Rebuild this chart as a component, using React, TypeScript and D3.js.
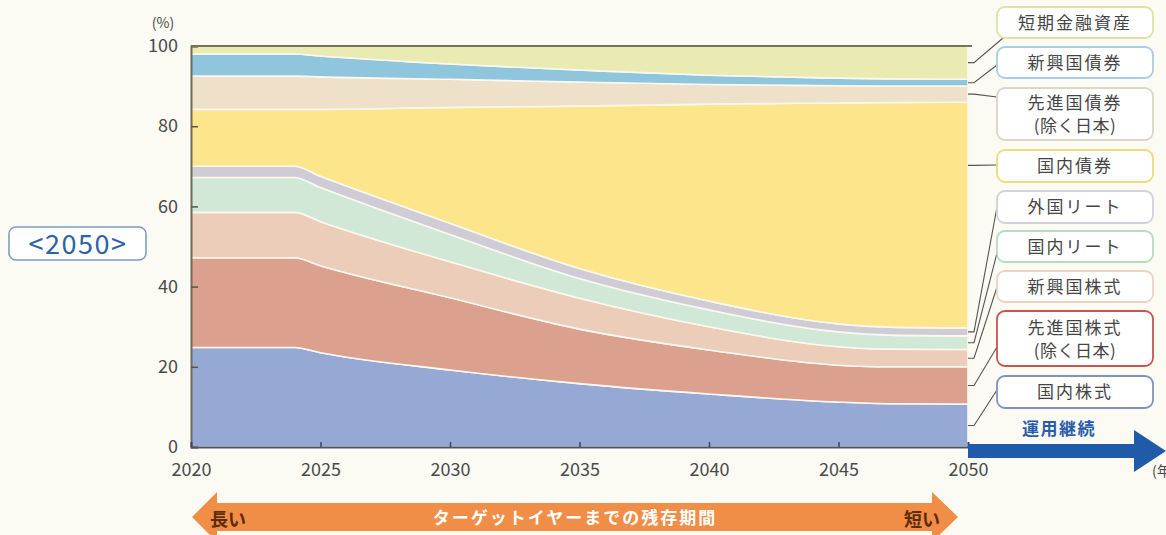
import { useEffect, useRef } from "react";
import * as d3 from "d3";

// Glide path (% of portfolio), bottom band first
const YEARS = [2020, 2024, 2025, 2030, 2035, 2040, 2045, 2047, 2050];
const DOMESTIC_EQUITY = [24.8, 24.8, 23.5, 19.2, 15.8, 13.2, 11.2, 10.8, 10.7];
const DEVELOPED_EQUITY = [22.4, 22.4, 21.7, 18.0, 13.6, 11.0, 9.2, 9.2, 9.3];
const EMERGING_EQUITY = [11.3, 11.3, 11.0, 9.0, 7.7, 5.8, 4.6, 4.4, 4.3];
const DOMESTIC_REIT = [8.7, 8.7, 8.5, 6.8, 4.9, 4.2, 3.7, 3.5, 3.4];
const FOREIGN_REIT = [2.8, 2.8, 2.8, 2.8, 2.5, 2.2, 2.0, 2.0, 2.0];
const DOMESTIC_BOND = [14.2, 14.2, 16.7, 28.9, 40.5, 49.1, 55.1, 56.0, 56.3];
const DEVELOPED_BOND = [8.3, 8.3, 8.1, 7.0, 6.0, 4.9, 4.3, 4.1, 4.0];
const EMERGING_BOND = [5.5, 5.5, 5.2, 3.8, 3.0, 2.3, 1.9, 1.8, 1.7];
const SHORT_TERM = [2.0, 2.0, 2.5, 4.5, 6.0, 7.3, 8.0, 8.2, 8.3];

const SERIES_KEYS = [
  "domEq", "devEq", "emEq", "domReit", "forReit",
  "domBond", "devBond", "emBond", "short",
];
const SERIES_VALUES = [
  DOMESTIC_EQUITY, DEVELOPED_EQUITY, EMERGING_EQUITY, DOMESTIC_REIT, FOREIGN_REIT,
  DOMESTIC_BOND, DEVELOPED_BOND, EMERGING_BOND, SHORT_TERM,
];
const SERIES_LABELS = [
  ["国内株式"], ["先進国株式", "(除く日本)"], ["新興国株式"], ["国内リート"], ["外国リート"],
  ["国内債券"], ["先進国債券", "(除く日本)"], ["新興国債券"], ["短期金融資産"],
];
const SERIES_COLORS = [
  "#96a9d5", "#dba08e", "#ebcdb9", "#d0e8d5", "#cfccd6",
  "#fce58b", "#efe0c9", "#8fc6dd", "#e9ebb3",
];
const LEGEND_BORDERS = [
  "#7e95bb", "#c8554c", "#eed2c2", "#b5dcc1", "#d4d0dc",
  "#eedb7c", "#ddd5c6", "#a9cde6", "#dfe3a3",
];

const Y_TICKS = [0, 20, 40, 60, 80, 100];
const X_TICKS = [2020, 2025, 2030, 2035, 2040, 2045, 2050];

// legend box placement (top, height) and leader end y, bottom band first
const LEGEND_BOX = [
  [376, 32, 390], [311, 55, 347], [271, 31, 287], [231, 31, 253], [191, 32, 207],
  [150, 32, 165], [88, 52, 97], [47, 31, 65], [7, 31, 38],
];
// where along a band the leader starts (0 = bottom, 1 = top)
const LEADER_FRAC = [0.5, 0.5, 0.5, 0.5, 0.5, 0.72, 0.5, 0.5, 0.5];

const W = 1166;
const H = 535;
const FONT = "'Noto Sans CJK JP', 'Noto Sans', sans-serif";

export default function App() {
  const svgRef = useRef<SVGSVGElement>(null);

  useEffect(() => {
    if (!svgRef.current) return;
    const svg = d3.select(svgRef.current);
    svg.selectAll("*").remove();

    const x0 = 191, x1 = 968, yTop = 46, yBot = 447;
    const x = d3.scaleLinear().domain([2020, 2050]).range([x0, x1]);
    const y = d3.scaleLinear().domain([0, 100]).range([yBot, yTop]);

    const rows = YEARS.map((yr, i) => {
      const r: Record<string, number> = { year: yr };
      SERIES_KEYS.forEach((k, s) => (r[k] = SERIES_VALUES[s][i]));
      return r;
    });
    const stacked = d3.stack<Record<string, number>>().keys(SERIES_KEYS)(rows);

    svg.append("rect").attr("width", W).attr("height", H).attr("fill", "#fbfaf3");

    const area = d3
      .area<d3.SeriesPoint<Record<string, number>>>()
      .x((d) => x(d.data.year))
      .y0((d) => y(d[0]))
      .y1((d) => y(d[1]))
      .curve(d3.curveMonotoneX);

    svg
      .append("g")
      .selectAll("path")
      .data(stacked)
      .join("path")
      .attr("d", (s) => area(s))
      .attr("fill", (_, i) => SERIES_COLORS[i])
      .attr("stroke", "#fbf8ef")
      .attr("stroke-width", 1.6);

    // Y axis (ticks inside)
    svg
      .append("g")
      .attr("transform", `translate(${x0},0)`)
      .call(d3.axisLeft(y).tickValues(Y_TICKS).tickSize(-7).tickPadding(13))
      .call((a) => {
        a.select(".domain").attr("stroke", "#6e6a55").attr("stroke-width", 2);
        a.selectAll("line").attr("stroke", "#5a5645").attr("stroke-width", 1.5);
        a.selectAll("text")
          .attr("fill", "#4a4a4a")
          .attr("font-size", "18px")
          .attr("font-family", FONT);
      });

    // top border
    svg.append("line")
      .attr("x1", x0).attr("x2", x1 + 4)
      .attr("y1", yTop).attr("y2", yTop)
      .attr("stroke", "#77725c").attr("stroke-width", 2);

    // X axis
    svg
      .append("g")
      .attr("transform", `translate(0,${yBot})`)
      .call(d3.axisBottom(x).tickValues(X_TICKS).tickSize(-5).tickPadding(16).tickFormat(d3.format("d")))
      .call((a) => {
        a.select(".domain").attr("stroke", "#4b5468").attr("stroke-width", 1.8);
        a.selectAll("line").attr("stroke", "#3d4558").attr("stroke-width", 1.5);
        a.selectAll("text")
          .attr("fill", "#4a4a4a")
          .attr("font-size", "18px")
          .attr("font-family", FONT);
      });

    svg.append("text")
      .attr("x", 163).attr("y", 28)
      .attr("text-anchor", "middle")
      .attr("fill", "#4a4a4a")
      .attr("font-size", "14px")
      .attr("font-family", FONT)
      .text("(%)");

    // <2050> badge
    svg.append("rect")
      .attr("x", 9).attr("y", 227).attr("width", 137).attr("height", 33).attr("rx", 7)
      .attr("fill", "#ffffff").attr("stroke", "#7d9dc8").attr("stroke-width", 1.6);
    svg.append("text")
      .attr("x", 78).attr("y", 254)
      .attr("text-anchor", "middle")
      .attr("fill", "#2e62a8")
      .attr("font-size", "27px")
      .attr("letter-spacing", "1.5")
      .attr("font-family", FONT)
      .text("<2050>");

    // legend boxes and leader lines
    const last = YEARS.length - 1;
    const lg = svg.append("g");
    stacked.forEach((s, i) => {
      const [top, hgt, endY] = LEGEND_BOX[i];
      const p = s[last];
      const startY = y(p[0] + (p[1] - p[0]) * LEADER_FRAC[i]);
      const endX = i === SERIES_KEYS.length - 1 ? 1003 : 997;
      lg.append("path")
        .attr("d", `M${x1},${startY}L${x1 + 6},${startY}L${endX},${endY}`)
        .attr("fill", "none")
        .attr("stroke", "#555")
        .attr("stroke-width", 1.1);
      lg.append("rect")
        .attr("x", 997).attr("y", top).attr("width", 156).attr("height", hgt).attr("rx", 8)
        .attr("fill", "#ffffff")
        .attr("stroke", LEGEND_BORDERS[i])
        .attr("stroke-width", 1.8);
      const lines = SERIES_LABELS[i];
      lines.forEach((t, j) => {
        const cy = lines.length === 1 ? top + hgt / 2 : top + hgt / 2 + (j === 0 ? -11 : 12);
        lg.append("text")
          .attr("x", 1075).attr("y", cy)
          .attr("dy", "0.36em")
          .attr("text-anchor", "middle")
          .attr("fill", "#454545")
          .attr("font-size", "17px")
          .attr("letter-spacing", j === 0 ? "2" : "0.5")
          .attr("font-family", FONT)
          .text(t);
      });
    });

    // blue continuation arrow
    svg.append("path")
      .attr("d", "M968,444L1134,444L1134,430L1166,451L1134,472L1134,458L968,458Z")
      .attr("fill", "#1f5ba8");
    svg.append("text")
      .attr("x", 1059).attr("y", 435)
      .attr("text-anchor", "middle")
      .attr("fill", "#2a5cab")
      .attr("font-size", "17px")
      .attr("font-weight", "bold")
      .attr("letter-spacing", "1.5")
      .attr("font-family", FONT)
      .text("運用継続");
    svg.append("text")
      .attr("x", 1152).attr("y", 476)
      .attr("fill", "#4a4a4a")
      .attr("font-size", "14px")
      .attr("font-family", FONT)
      .text("(年)");

    // orange remaining-period arrow
    svg.append("path")
      .attr("d", "M192,517L217,492L217,503L932,503L932,492L958,517L932,542L932,531L217,531L217,542Z")
      .attr("fill", "#f08d46");
    svg.append("text")
      .attr("x", 575).attr("y", 518)
      .attr("dy", "0.36em")
      .attr("text-anchor", "middle")
      .attr("fill", "#ffffff")
      .attr("font-size", "17px")
      .attr("font-weight", "bold")
      .attr("letter-spacing", "2")
      .attr("font-family", FONT)
      .text("ターゲットイヤーまでの残存期間");
    svg.append("text")
      .attr("x", 210).attr("y", 520)
      .attr("dy", "0.36em")
      .attr("fill", "#5c2c0b")
      .attr("font-size", "18px")
      .attr("font-weight", "bold")
      .attr("font-family", FONT)
      .text("長い");
    svg.append("text")
      .attr("x", 940).attr("y", 520)
      .attr("dy", "0.36em")
      .attr("text-anchor", "end")
      .attr("fill", "#5c2c0b")
      .attr("font-size", "18px")
      .attr("font-weight", "bold")
      .attr("font-family", FONT)
      .text("短い");
  }, []);

  return (
    <div style={{ position: "absolute", left: 0, top: 0 }}>
      <svg ref={svgRef} width={W} height={H} style={{ display: "block" }} />
    </div>
  );
}
